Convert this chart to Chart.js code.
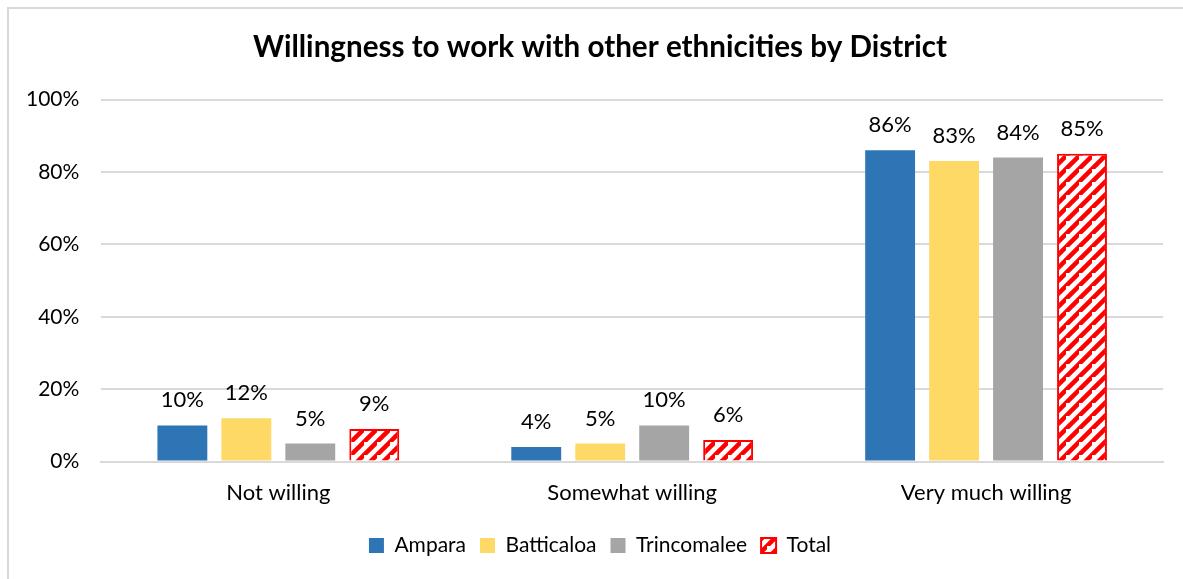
<!DOCTYPE html>
<html>
<head>
<meta charset="utf-8">
<script src="https://cdn.jsdelivr.net/npm/chart.js@4/dist/chart.umd.min.js"></script>
<style>
  html, body { margin: 0; padding: 0; background: #fff; }
  #wrap { position: relative; width: 1183px; height: 579px; overflow: hidden; }
  #frame { position: absolute; left: 7px; top: 7px; right: -4px; bottom: -4px;
           border-top: 2px solid #d9d9d9; border-left: 2px solid #d9d9d9; }
  #chartCanvas { position: absolute; left: 0; top: 0; }
</style>
</head>
<body>
<div id="wrap">
  <div id="frame"></div>
  <canvas id="chartCanvas" width="1183" height="579"></canvas>
</div>
<script>
var categories = ['Not willing', 'Somewhat willing', 'Very much willing'];
var ampara = [10, 4, 86];
var batticaloa = [12, 5, 83];
var trincomalee = [5, 10, 84];
var total = [9, 6, 85];
var yTicks = [0, 20, 40, 60, 80, 100];

var FONT = 'Lato, "Noto Sans", sans-serif';

// red "/" hatching used for the Total series
function makeHatch() {
	var size = 13;
	var c = document.createElement('canvas');
	c.width = size;
	c.height = size;
	var ctx = c.getContext('2d');
	ctx.fillStyle = '#ffffff';
	ctx.fillRect(0, 0, size, size);
	ctx.strokeStyle = '#ff0000';
	ctx.lineWidth = 4.5;
	ctx.beginPath();
	ctx.moveTo(-size, size * 2); ctx.lineTo(size * 2, -size);
	ctx.moveTo(-size * 2, size); ctx.lineTo(size, -size * 2);
	ctx.moveTo(0, size * 2); ctx.lineTo(size * 2, 0);
	ctx.stroke();
	return ctx.createPattern(c, 'repeat');
}

var valueLabels = {
	id: 'valueLabels',
	afterDatasetsDraw: function(chart) {
		var ctx = chart.ctx;
		ctx.save();
		ctx.font = '22px ' + FONT;
		ctx.fillStyle = '#000';
		ctx.textAlign = 'center';
		ctx.textBaseline = 'bottom';
		chart.data.datasets.forEach(function(ds, i) {
			chart.getDatasetMeta(i).data.forEach(function(bar, j) {
				ctx.fillText(ds.data[j] + '%', bar.x, bar.y - 14);
			});
		});
		ctx.restore();
	}
};

// title and legend are centred on the frame, not on the full canvas
var centreOnFrame = {
	id: 'centreOnFrame',
	afterLayout: function(chart) {
		if (chart.titleBlock) chart.titleBlock.left += 33;
		if (chart.legend) chart.legend.left += 33;
	}
};

var chartCanvas = document.getElementById('chartCanvas');
var chartObj = new Chart(chartCanvas, {
	type: 'bar',
	data: {
		labels: categories,
		datasets: [
			{ label: 'Ampara', data: ampara, backgroundColor: '#2e75b6' },
			{ label: 'Batticaloa', data: batticaloa, backgroundColor: '#ffd966' },
			{ label: 'Trincomalee', data: trincomalee, backgroundColor: '#a5a5a5' },
			{ label: 'Total', data: total, backgroundColor: makeHatch(), borderColor: '#ff0000', borderWidth: 2 }
		]
	},
	options: {
		responsive: false,
		animation: false,
		datasets: { bar: { categoryPercentage: 0.723, barPercentage: 0.78 } },
		layout: { padding: { left: 4, right: 20, top: 14, bottom: 13 } },
		scales: {
			x: {
				grid: { display: false },
				border: { color: '#d9d9d9', width: 2 },
				ticks: { color: '#000', font: { size: 22, family: FONT }, padding: 10 },
				afterFit: function(axis) { axis.height += 5; }
			},
			y: {
				min: 0,
				max: 100,
				afterBuildTicks: function(axis) {
					axis.ticks = yTicks.map(function(v) { return { value: v }; });
				},
				grid: { color: '#d9d9d9', lineWidth: 2, drawTicks: false },
				border: { display: false },
				ticks: {
					color: '#000',
					font: { size: 21, family: FONT },
					padding: 22,
					callback: function(v) { return v + '%'; }
				}
			}
		},
		plugins: {
			title: {
				display: true,
				text: 'Willingness to work with other ethnicities by District',
				color: '#000',
				font: { size: 29.6, weight: 'bold', family: FONT },
				padding: { top: 16, bottom: 34 }
			},
			legend: {
				position: 'bottom',
				labels: {
					color: '#000',
					font: { size: 21, family: FONT },
					boxWidth: 15,
					boxHeight: 15,
					padding: 14
				}
			},
			tooltip: { enabled: false }
		}
	},
	plugins: [valueLabels, centreOnFrame]
});
</script>
</body>
</html>
